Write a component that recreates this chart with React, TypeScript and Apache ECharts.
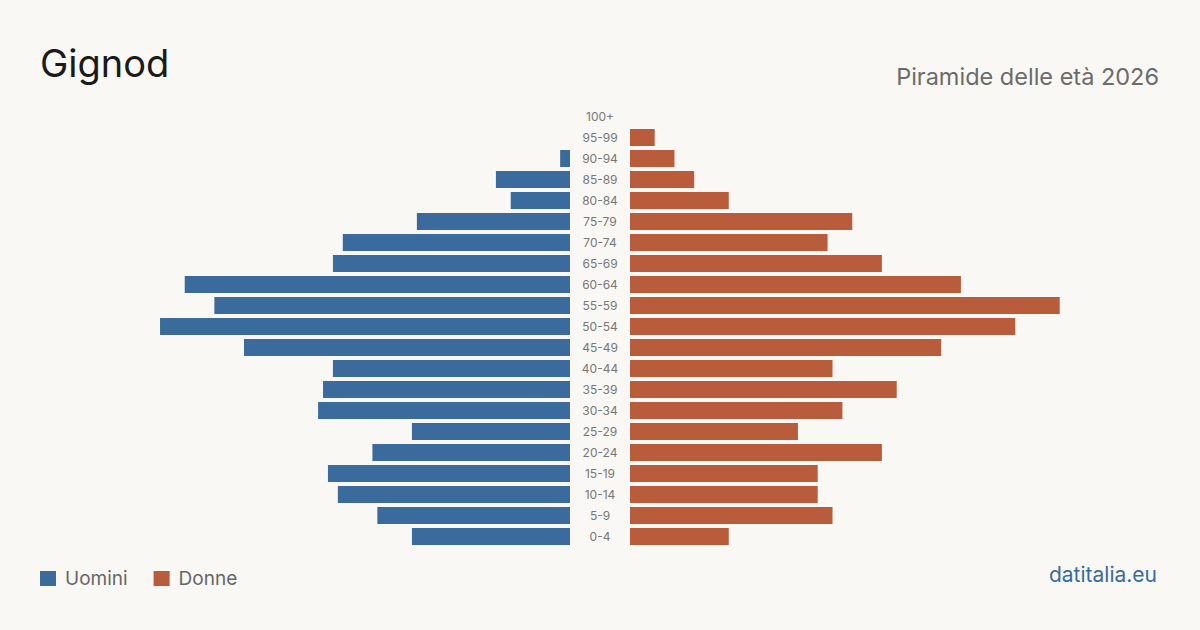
import React, { useEffect, useRef } from "react";
import * as echarts from "echarts";

const ageGroups = ["0-4","5-9","10-14","15-19","20-24","25-29","30-34","35-39","40-44","45-49","50-54","55-59","60-64","65-69","70-74","75-79","80-84","85-89","90-94","95-99","100+"];
const men = [32,39,47,49,40,32,51,50,48,66,83,72,78,48,46,31,12,15,2,0,0];
const women = [20,41,38,38,51,34,43,54,41,63,78,87,67,51,40,45,20,13,9,5,0];

const BLUE = "#3b6b9d";
const ORANGE = "#b95c3c";
const BG = "#f9f8f4";
const FONT = "Inter, 'Noto Sans', sans-serif";

export default function App() {
  const ref = useRef<HTMLDivElement>(null);
  useEffect(() => {
    const chart = echarts.init(ref.current!, null, { renderer: "svg" });
    const xMax = 107.3;
    chart.setOption({
      animation: false,
      backgroundColor: BG,
      textStyle: { fontFamily: FONT },
      grid: [
        { left: 40, width: 530, top: 106, height: 441 },
        { left: 630, width: 530, top: 106, height: 441 },
      ],
      xAxis: [
        { type: "value", gridIndex: 0, min: 0, max: xMax, inverse: true, show: false },
        { type: "value", gridIndex: 1, min: 0, max: xMax, show: false },
      ],
      yAxis: [
        { type: "category", gridIndex: 0, data: ageGroups, show: false },
        {
          type: "category", gridIndex: 1, data: ageGroups,
          axisLine: { show: false }, axisTick: { show: false },
          axisLabel: { margin: 30, align: "center", color: "#777", fontSize: 12, fontFamily: FONT },
        },
      ],
      legend: {
        left: 35, top: 564, itemWidth: 16, itemHeight: 15, icon: "rect", itemGap: 26,
        textStyle: { fontSize: 19, color: "#666", fontFamily: FONT, padding: [0, 0, 0, 4] },
        data: ["Uomini", "Donne"],
      },
      series: [
        { name: "Uomini", type: "bar", xAxisIndex: 0, yAxisIndex: 0, data: men, barWidth: 17, itemStyle: { color: BLUE } },
        { name: "Donne", type: "bar", xAxisIndex: 1, yAxisIndex: 1, data: women, barWidth: 17, itemStyle: { color: ORANGE } },
      ],
      graphic: [
        { type: "text", left: 40, top: 44, style: { text: "Gignod", font: `38px ${FONT}`, fill: "#1a1a1a" } },
        { type: "text", right: 41, top: 64, style: { text: "Piramide delle età 2026", font: `23.5px ${FONT}`, fill: "#6b6b6b" } },
        { type: "text", right: 43, top: 564, style: { text: "datitalia.eu", font: `21px ${FONT}`, fill: "#3b6b9d" } },
      ],
    });
    return () => chart.dispose();
  }, []);
  return <div ref={ref} style={{ width: 1200, height: 630, position: "fixed", left: 0, top: 0 }} />;
}
